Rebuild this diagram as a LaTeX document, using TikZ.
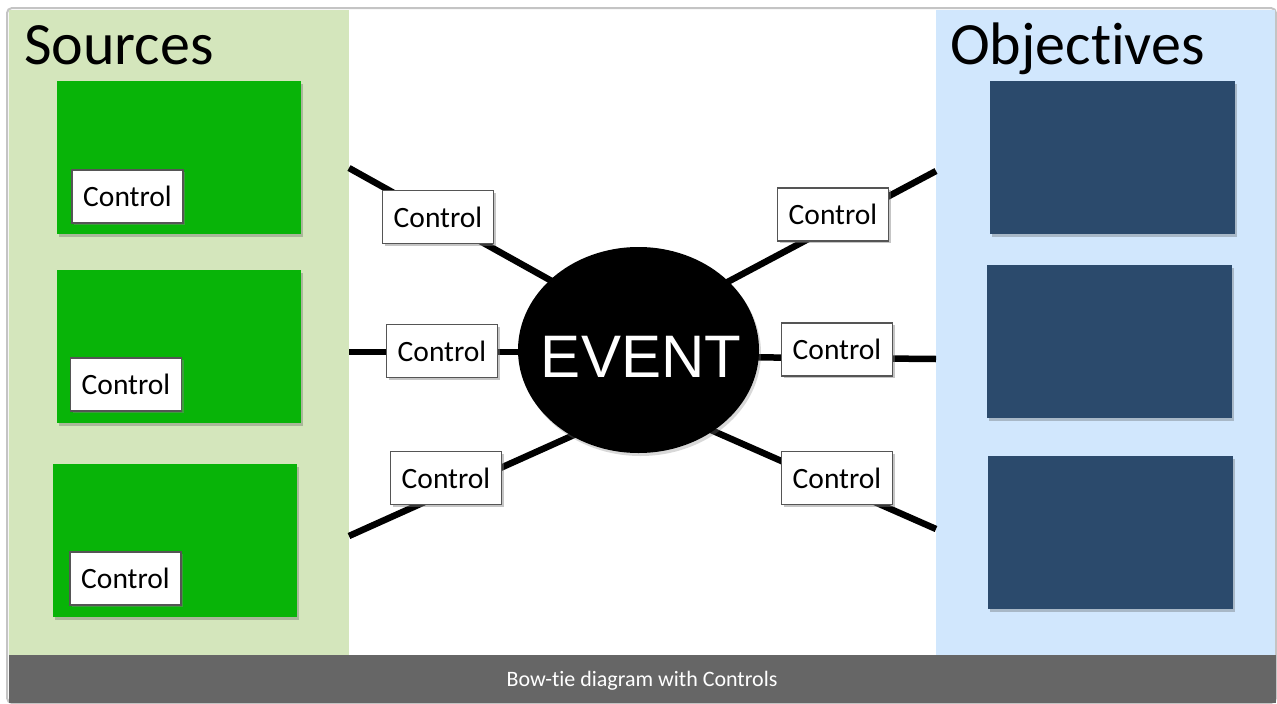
\documentclass[tikz,border=0pt]{standalone}
\usepackage{fontspec}
\setmainfont{Carlito}[Ligatures={NoCommon,NoRare,NoContextual}, Contextuals=NoAlternate]
\newfontfamily\arialfont{Liberation Sans}
\usetikzlibrary{shadows,shapes.geometric}
\definecolor{framegray}{HTML}{C4C4C4}
\definecolor{srcpanel}{HTML}{D4E6BC}
\definecolor{objpanel}{HTML}{D1E7FD}
\definecolor{srcgreen}{HTML}{08B408}
\definecolor{objblue}{HTML}{2B4A6C}
\definecolor{barg}{HTML}{666666}
\definecolor{ctrlborder}{HTML}{555555}
\pgfdeclarelayer{panels}
\pgfdeclarelayer{lines}
\pgfsetlayers{panels,lines,main}
\tikzset{
  softshadow/.style={drop shadow={shadow xshift=2pt, shadow yshift=-3pt, opacity=0.3, fill=black!70}},
  srcbox/.style={rectangle, fill=srcgreen, minimum width=244pt, minimum height=153pt, inner sep=0pt, softshadow},
  objbox/.style={rectangle, fill=objblue, minimum width=245pt, minimum height=153pt, inner sep=0pt, softshadow},
  ctrlbox/.style={rectangle, draw=ctrlborder, line width=1.2pt, fill=white, minimum width=111pt, minimum height=53pt, inner sep=0pt,
     font=\fontsize{29.5}{34}\selectfont, text=black, drop shadow={shadow xshift=2pt, shadow yshift=-2pt, opacity=0.45}},
  conn/.style={line width=6.5pt, black},
  paneltitle/.style={anchor=base west, inner sep=0pt, font=\fontsize{60}{68}\selectfont, text=black}
}
\begin{document}
\begin{tikzpicture}[x=1pt, y=-1pt]
\useasboundingbox (0,0) rectangle (1277,704);
% frame and panels
\begin{pgfonlayer}{panels}
  \draw[framegray, line width=2pt, fill=white, rounded corners=5pt] (7,8) rectangle (1276,703);
  \fill[srcpanel] (9,9.5) rectangle (349,655);
  \fill[objpanel] (936,9.5) rectangle (1275,655);
  \fill[barg] (8.5,655) rectangle (1275.5,702.5);
\end{pgfonlayer}
\node[paneltitle] (srctitle) at (24,64) {Sources};
\node[paneltitle] (objtitle) at (950,64) {Objec\kern0pt tives};
\node[text=white, font=\fontsize{22}{26}\selectfont, inner sep=0pt, anchor=base] (caption) at (642,686) {Bow-t\kern0pt ie diagram with Controls};
% source boxes
\node[srcbox] (s1) at (179,157.5) {};
\node[srcbox] (s2) at (179,346.5) {};
\node[srcbox] (s3) at (175,540.5) {};
\node[ctrlbox] (sc1) at (127.5,196.5) {Control};
\node[ctrlbox] (sc2) at (126,384.5) {Control};
\node[ctrlbox] (sc3) at (125.5,578.5) {Control};
% objective boxes
\node[objbox] (o1) at (1112.5,157.5) {};
\node[objbox] (o2) at (1109.5,341.5) {};
\node[objbox] (o3) at (1110.5,532) {};
% event
\node[ellipse, fill=black, minimum width=241pt, minimum height=206pt, inner sep=0pt,
      drop shadow={shadow xshift=2pt, shadow yshift=-3pt, opacity=0.3}] (ev) at (638.5,350) {};
\node[text=white, font=\arialfont\fontsize{60}{64}\selectfont, inner sep=0pt, anchor=base] (evtext) at (641,377) {EVENT};
% connector end points
\coordinate (pL1) at (349,168);
\coordinate (pL2) at (349,352);
\coordinate (pL3) at (349,536);
\coordinate (pR1) at (936,171);
\coordinate (pR2) at (936,359);
\coordinate (pR3) at (936,529);
\coordinate (eL1) at (575,294);
\coordinate (eL2) at (560,352);
\coordinate (eL3) at (585,430);
\coordinate (eR1) at (705,294);
\coordinate (eR2) at (720,357);
\coordinate (eR3) at (695,423);
\begin{pgfonlayer}{lines}
  \draw[conn] (pL1) -- (eL1);
  \draw[conn] (pL2) -- (eL2);
  \draw[conn] (pL3) -- (eL3);
  \draw[conn] (pR1) -- (eR1);
  \draw[conn] (pR2) -- (eR2);
  \draw[conn] (pR3) -- (eR3);
\end{pgfonlayer}
% controls on connectors
\node[ctrlbox] (cL1) at (438,217) {Control};
\node[ctrlbox] (cL2) at (442,351) {Control};
\node[ctrlbox] (cL3) at (446,478) {Control};
\node[ctrlbox] (cR1) at (833,214.5) {Control};
\node[ctrlbox] (cR2) at (837,349.5) {Control};
\node[ctrlbox] (cR3) at (837,478) {Control};
\end{tikzpicture}
\end{document}
